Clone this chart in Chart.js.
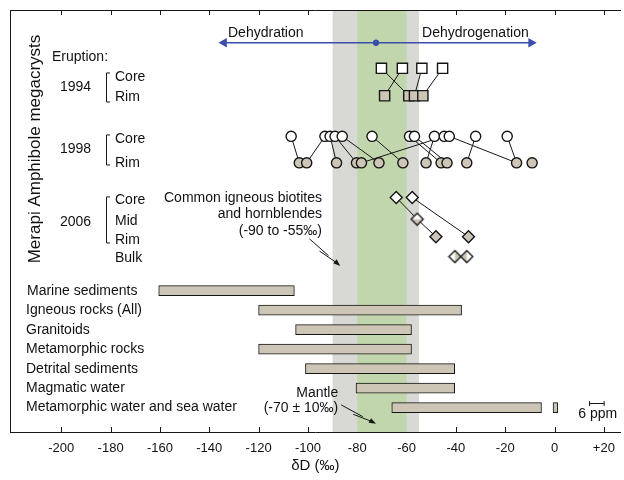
<!DOCTYPE html>
<html lang="en">
<head>
<meta charset="utf-8">
<title>Merapi amphibole δD</title>
<script src="https://cdn.jsdelivr.net/npm/chart.js@4.4.1/dist/chart.umd.min.js"></script>
<style>
  body { margin: 0; background: #fff; }
</style>
</head>
<body>
<canvas id="dd" width="624" height="480"></canvas>
<script>
// δD axis (per mil)
const xTicks = [-200, -180, -160, -140, -120, -100, -80, -60, -40, -20, 0, 20];
const xMin = -220.8, xMax = 26.8;
// vertical rows, 0 at top, one unit per reference bar row
const yMin = -0.4, yMax = 21.25;

// shaded ranges
const biotiteRange = [-90, -55];
const mantleRange = [-80, -60];

// 1994 megacrysts
const row1994 = [2.59, 4.0];
const core1994 = [-70.2, -61.7, -53.8, -45.4];
const rim1994 = [-68.9, -59.1, -56.8, -53.4];
const links1994 = [[0, 1], [1, 0], [2, 2], [3, 3]];

// 1998 megacrysts
const row1998 = [6.08, 7.44];
const core1998 = [-106.8, -93.1, -91.0, -89.0, -86.1, -74.0, -58.8, -56.8, -48.7, -44.7, -42.7, -32.0, -19.2];
const rim1998 = [-103.5, -100.5, -88.4, -80.3, -78.3, -71.2, -61.5, -52.1, -46.0, -43.6, -35.6, -15.4, -9.1];
const links1998 = [[0, 0], [1, 1], [2, 2], [3, 3], [4, 5], [5, 6], [6, 8], [7, 9], [8, 7], [9, 4], [10, 11], [11, 10], [12, 11]];

// 2006 megacrysts
const row2006 = [9.22, 10.33, 11.23, 12.25];
const core2006 = [-64.2, -57.7];
const mid2006 = [-55.7];
const rim2006 = [-48.1, -34.9];
const bulk2006 = [-40.4, -35.6];

// dehydration / dehydrogenation arrow
const trendRow = 1.28;
const trendEnds = [-134, -9.5];
const trendCentre = -72.4;

// reservoirs
const reservoirs = ['Marine sediments', 'Igneous rocks (All)', 'Granitoids', 'Metamorphic rocks',
  'Detrital sediments', 'Magmatic water', 'Metamorphic water and sea water'];
const reservoirRows = [14, 15, 16, 17, 18, 19, 20];
const reservoirRanges = [[-160.5, -105.5], [-120, -37.7], [-105, -58], [-120, -58],
  [-101, -40.5], [-80.5, -40.5], [-66, -5.3]];
const seaWater = [-0.6, 1.3];

// left-hand labels
const eruptionRow = 2.01;
const years = ['1994', '1998', '2006'];
const yearRows = [3.55, 6.73, 10.46];
const parts = [['Core', 'Rim'], ['Core', 'Rim'], ['Core', 'Mid', 'Rim', 'Bulk']];
const partRows = [[3.04, 4.06], [6.22, 7.45], [9.34, 10.42, 11.39, 12.33]];
const bracketRows = [[2.83, 4.32], [6.01, 7.55], [9.19, 11.55]];

const FONT = '"Liberation Sans", Arial, sans-serif';
const ink = '#161616';
const tan = '#cdc5b6';
const blue = '#3b4ea8';

Chart.defaults.font.family = FONT;
Chart.defaults.color = '#111';

// diamond marker with one half shaded
function splitDiamond(r, half) {
  const c = document.createElement('canvas');
  const s = Math.ceil(2 * r + 3);
  c.width = c.height = s;
  const g = c.getContext('2d');
  const m = s / 2;
  const path = () => {
    g.beginPath();
    g.moveTo(m, m - r); g.lineTo(m + r, m); g.lineTo(m, m + r); g.lineTo(m - r, m);
    g.closePath();
  };
  path(); g.fillStyle = '#fff'; g.fill();
  g.save(); path(); g.clip();
  g.fillStyle = tan;
  if (half === 'right') g.fillRect(m, 0, s, s);
  else if (half === 'left') g.fillRect(0, 0, m, s);
  else g.fillRect(0, m, s, s);
  g.restore();
  path(); g.lineWidth = 1.4; g.strokeStyle = ink; g.stroke();
  return c;
}

function markers(xs, row, style, radius, fill) {
  return {
    type: 'scatter', xAxisID: 'x', yAxisID: 'y', order: 1,
    data: xs.map(v => ({ x: v, y: row })),
    pointStyle: style, pointRadius: radius,
    backgroundColor: fill, borderColor: ink, borderWidth: 1.4
  };
}

function links(fromX, fromRow, toX, toRow, pairs) {
  return pairs.map(([a, b]) => ({
    type: 'scatter', showLine: true, xAxisID: 'x', yAxisID: 'y', order: 5,
    data: [{ x: fromX[a], y: fromRow }, { x: toX[b], y: toRow }],
    borderColor: ink, borderWidth: 1, pointRadius: 0
  }));
}

const datasets = [
  markers(core1994, row1994[0], 'rect', 7.2, '#fff'),
  markers(rim1994, row1994[1], 'rect', 7.2, tan),
  markers(core1998, row1998[0], 'circle', 5.1, '#fff'),
  markers(rim1998, row1998[1], 'circle', 5.1, tan),
  markers(core2006, row2006[0], 'rectRot', 6, '#fff'),
  markers(mid2006, row2006[1], splitDiamond(6, 'bottom'), 6, '#fff'),
  markers(rim2006, row2006[2], 'rectRot', 6, tan),
  markers(bulk2006, row2006[3], [splitDiamond(6, 'right'), splitDiamond(6, 'left')], 6, '#fff'),
  {
    type: 'scatter', xAxisID: 'x', yAxisID: 'y', order: 2,
    data: [{ x: trendCentre, y: trendRow }],
    pointRadius: 2.8, backgroundColor: blue, borderColor: blue
  },
  {
    type: 'scatter', showLine: true, xAxisID: 'x', yAxisID: 'y', order: 3,
    data: trendEnds.map(v => ({ x: v, y: trendRow })),
    borderColor: blue, borderWidth: 1.5,
    pointStyle: 'triangle', pointRotation: [-90, 90], pointRadius: 4,
    backgroundColor: blue
  },
  ...links(core1994, row1994[0], rim1994, row1994[1], links1994),
  ...links(core1998, row1998[0], rim1998, row1998[1], links1998),
  ...links(core2006, row2006[0], mid2006, row2006[1], [[0, 0]]),
  ...links(mid2006, row2006[1], rim2006, row2006[2], [[0, 0]]),
  ...links(core2006, row2006[0], rim2006, row2006[2], [[1, 1]]),
  {
    type: 'bar', indexAxis: 'y', xAxisID: 'x', yAxisID: 'y', order: 6,
    data: reservoirRanges.map((r, i) => ({ x: r, y: reservoirRows[i] }))
      .concat([{ x: seaWater, y: reservoirRows[6] }]),
    backgroundColor: tan, borderColor: ink, borderWidth: 1,
    borderSkipped: false, barThickness: 10
  }
];

// shaded bands and inward tick marks, under everything else
const bandPlugin = {
  id: 'bands',
  beforeDraw(chart) {
    const { ctx, chartArea: a, scales: { x } } = chart;
    ctx.save();
    ctx.strokeStyle = ink;
    ctx.lineWidth = 1;
    ctx.beginPath();
    xTicks.forEach(v => {
      const p = Math.round(x.getPixelForValue(v)) + 0.5;
      ctx.moveTo(p, a.top); ctx.lineTo(p, a.top + 5);
      ctx.moveTo(p, a.bottom); ctx.lineTo(p, a.bottom - 5);
    });
    ctx.stroke();
    const band = (r, c) => {
      const x0 = x.getPixelForValue(r[0]), x1 = x.getPixelForValue(r[1]);
      ctx.fillStyle = c;
      ctx.fillRect(x0, a.top, x1 - x0, a.bottom - a.top);
    };
    band(biotiteRange, '#d8d9d4');
    band(mantleRange, '#c1d6ac');
    ctx.restore();
  }
};

function pointer(ctx, x0, y0, x1, y1) {
  const dx = x1 - x0, dy = y1 - y0, len = Math.hypot(dx, dy);
  const ux = dx / len, uy = dy / len, nx = -uy, ny = ux;
  ctx.beginPath();
  ctx.moveTo(x0, y0);
  ctx.lineTo(x0 + dx * 0.62, y0 + dy * 0.62);
  ctx.moveTo(x0 + dx * 0.38 + nx * 2.5, y0 + dy * 0.38 + ny * 2.5);
  ctx.lineTo(x1 - ux * 5, y1 - uy * 5);
  ctx.stroke();
  ctx.beginPath();
  ctx.moveTo(x1, y1);
  ctx.lineTo(x1 - ux * 7 + nx * 2.6, y1 - uy * 7 + ny * 2.6);
  ctx.lineTo(x1 - ux * 7 - nx * 2.6, y1 - uy * 7 - ny * 2.6);
  ctx.closePath();
  ctx.fill();
}

const labelPlugin = {
  id: 'labels',
  afterDraw(chart) {
    const { ctx, chartArea: a, scales: { x, y } } = chart;
    const X = v => x.getPixelForValue(v);
    const Y = r => y.getPixelForValue(r);
    const text = (s, px, py, align, size) => {
      ctx.font = size + 'px ' + FONT;
      ctx.textAlign = align;
      ctx.textBaseline = 'middle';
      ctx.fillText(s, px, py);
    };
    ctx.save();
    ctx.fillStyle = '#111';
    ctx.strokeStyle = ink;
    ctx.lineWidth = 1;

    // vertical title
    ctx.save();
    ctx.translate(a.left + 25, Y(6.73));
    ctx.rotate(-Math.PI / 2);
    text('Merapi Amphibole megacrysts', 0, 0, 'center', 17);
    ctx.restore();

    text('Eruption:', a.left + 42, Y(eruptionRow), 'left', 14);
    years.forEach((yr, i) => {
      text(yr, a.left + 50, Y(yearRows[i]), 'left', 14);
      parts[i].forEach((p, j) => text(p, a.left + 105, Y(partRows[i][j]), 'left', 14));
      const bx = a.left + 96.5, t = Y(bracketRows[i][0]), b = Y(bracketRows[i][1]);
      ctx.beginPath();
      ctx.moveTo(bx + 3.5, t); ctx.lineTo(bx, t); ctx.lineTo(bx, b); ctx.lineTo(bx + 3.5, b);
      ctx.stroke();
    });

    reservoirs.forEach((r, i) => {
      text(r, a.left + (i === 0 ? 17 : 16), Y(reservoirRows[i]), 'left', 14);
    });

    // trend arrow captions
    text('Dehydration', X(-117.1), Y(0.78), 'center', 14);
    text('Dehydrogenation', X(-32.1), Y(0.78), 'center', 14);

    // biotite / hornblende note
    text('Common igneous biotites', X(-94.3), Y(9.24), 'right', 14);
    text('and hornblendes', X(-94.3), Y(10.09), 'right', 14);
    text('(-90 to -55‰)', X(-94.3), Y(10.93), 'right', 14);
    ctx.fillStyle = ink;
    pointer(ctx, X(-99.4), Y(11.34), X(-86.9), Y(12.73));

    // mantle note
    ctx.fillStyle = '#111';
    text('Mantle', X(-87.7), Y(19.24), 'right', 14);
    text('(-70 ± 10‰)', X(-87.7), Y(20.01), 'right', 14);
    ctx.fillStyle = ink;
    pointer(ctx, X(-86.5), Y(19.86), X(-72.4), Y(20.83));

    // 6 ppm scale bar
    const s0 = X(14.2), s1 = X(20.1), sy = Math.round(Y(19.75)) + 0.5;
    ctx.beginPath();
    ctx.moveTo(s0, sy); ctx.lineTo(s1, sy);
    ctx.moveTo(s0, sy - 2.5); ctx.lineTo(s0, sy + 2.5);
    ctx.moveTo(s1, sy - 2.5); ctx.lineTo(s1, sy + 2.5);
    ctx.stroke();
    ctx.fillStyle = '#111';
    text('6 ppm', X(17.5), Y(20.32), 'center', 14);
    ctx.restore();
  }
};

new Chart(document.getElementById('dd'), {
  type: 'scatter',
  data: { datasets },
  options: {
    responsive: false,
    animation: false,
    events: [],
    layout: { autoPadding: false, padding: { left: 10, top: 10, right: 0, bottom: 0 } },
    plugins: { legend: { display: false }, tooltip: { enabled: false } },
    scales: {
      x: {
        type: 'linear', position: 'bottom', min: xMin, max: xMax, offset: false,
        grid: { display: false, drawTicks: false, offset: false },
        border: { display: true, color: ink, width: 1 },
        ticks: {
          font: { size: 13 }, color: '#111', padding: 9, autoSkip: false, maxRotation: 0,
          callback: v => (v > 0 ? '+' + v : String(v))
        },
        afterBuildTicks: s => { s.ticks = xTicks.map(v => ({ value: v })); },
        afterFit: s => { s.height = 48; },
        title: { display: true, text: 'δD (‰)', color: '#111', font: { size: 15 }, padding: { top: 0, bottom: 5 } }
      },
      xTop: {
        type: 'linear', position: 'top', min: xMin, max: xMax, offset: false,
        grid: { display: false, drawTicks: false },
        border: { display: true, color: ink, width: 1 },
        ticks: { display: false },
        afterFit: s => { s.height = 0; }
      },
      y: {
        type: 'linear', reverse: true, min: yMin, max: yMax, offset: false,
        grid: { display: false, drawTicks: false, offset: false },
        border: { display: true, color: ink, width: 1 },
        ticks: { display: false },
        afterFit: s => { s.width = 0; }
      }
    }
  },
  plugins: [bandPlugin, labelPlugin]
});
</script>
</body>
</html>
